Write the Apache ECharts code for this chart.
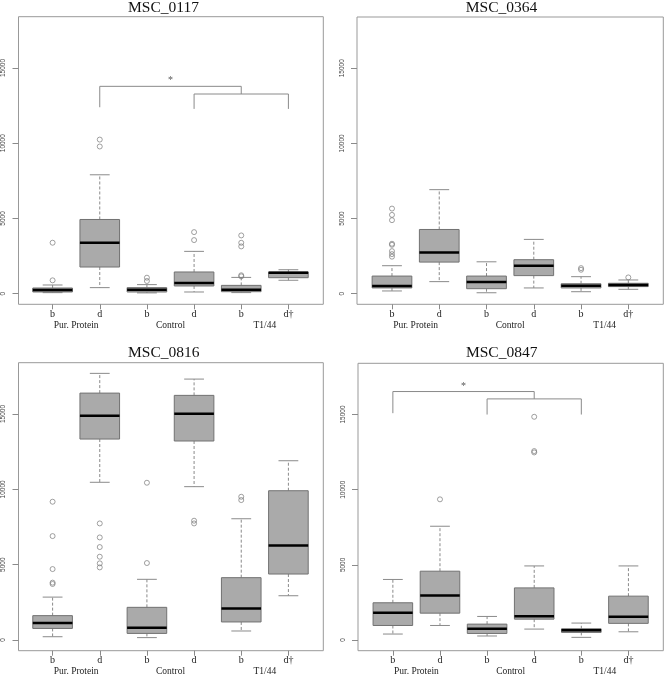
<!DOCTYPE html>
<html>
<head>
<meta charset="utf-8">
<script src="https://cdn.jsdelivr.net/npm/echarts@6/dist/echarts.min.js"></script>
<style>
  html, body { margin: 0; padding: 0; background: #fff; }
  #main { width: 664px; height: 677px; }
</style>
</head>
<body>
<div id="main"></div>
<script>
// categories on every panel
const categories = ['b', 'd', 'b', 'd', 'b', 'd†'];
const groups = ['Pur. Protein', 'Control', 'T1/44'];
const yTicks = [0, 5000, 10000, 15000];
const yRange = [0, 17700]; // common ylim for the four panels

// box stats: [low whisker, Q1, median, Q3, high whisker]
const msc0117Stats = [
  [66, 110, 243, 376, 575],
  [400, 1770, 3380, 4930, 7900],
  [50, 110, 265, 400, 600],
  [110, 510, 710, 1440, 2810],
  [70, 130, 265, 550, 1080],
  [890, 1060, 1390, 1440, 1590]
];
// outliers: [category index, value]
const msc0117Outliers = [[0, 885], [0, 3385], [1, 9780], [1, 10240], [2, 840], [2, 1060],
  [3, 3560], [3, 4090], [4, 1150], [4, 1220], [4, 3140], [4, 3380], [4, 3870]];
// brackets: [from, to, top, left leg end, right leg end]
const msc0117Brackets = [[1, 4, 13780, 12390, 13270], [3, 5, 13270, 12280, 12280]];
const msc0117Stars = [[2.5, 14200]];

const msc0364Stats = [
  [180, 380, 510, 1170, 1860],
  [800, 2100, 2740, 4270, 6920],
  [60, 330, 770, 1170, 2120],
  [380, 1200, 1860, 2260, 3610],
  [130, 380, 530, 660, 1130],
  [290, 470, 580, 690, 910]
];
const msc0364Outliers = [[0, 2460], [0, 2630], [0, 2830], [0, 3250], [0, 3320], [0, 4890],
  [0, 5240], [0, 5660], [4, 1590], [4, 1700], [5, 1080]];

const msc0816Stats = [
  [220, 770, 1130, 1620, 2850],
  [10470, 13340, 14890, 16390, 17700],
  [160, 440, 820, 2170, 4030],
  [10180, 13210, 15020, 16240, 17320],
  [600, 1200, 2100, 4140, 8050],
  [2940, 4380, 6280, 9910, 11900]
];
const msc0816Outliers = [[0, 3720], [0, 3810], [0, 4710], [0, 6900], [0, 9180],
  [1, 4820], [1, 5090], [1, 5530], [1, 6170], [1, 6810], [1, 7740],
  [2, 5110], [2, 10440], [3, 7740], [3, 7920], [4, 9290], [4, 9510]];

const msc0847Stats = [
  [400, 970, 1810, 2480, 4030],
  [970, 1790, 2970, 4580, 7570],
  [270, 440, 750, 1060, 1570],
  [730, 1390, 1590, 3470, 4930],
  [180, 510, 660, 750, 1130],
  [550, 1110, 1550, 2920, 4930]
];
const msc0847Outliers = [[1, 9360], [3, 12480], [3, 12570], [3, 14850]];
const msc0847Brackets = [[0, 3, 16530, 15090, 16040], [2, 4, 16040, 15000, 15000]];
const msc0847Stars = [[1.5, 16900]];

// panel layout: frame [left, top, right, bottom] in px
const panels = [
  { title: 'MSC_0117', stats: msc0117Stats, outliers: msc0117Outliers, brackets: msc0117Brackets, stars: msc0117Stars,
    frame: [17.7, 16.7, 323.3, 304.3], titlePos: [163.5, 7.5] },
  { title: 'MSC_0364', stats: msc0364Stats, outliers: msc0364Outliers, brackets: [], stars: [],
    frame: [357, 17, 663.3, 304.3], titlePos: [501.5, 7.5] },
  { title: 'MSC_0816', stats: msc0816Stats, outliers: msc0816Outliers, brackets: [], stars: [],
    frame: [17.7, 362.7, 323.3, 650.7], titlePos: [163.8, 352.5] },
  { title: 'MSC_0847', stats: msc0847Stats, outliers: msc0847Outliers, brackets: msc0847Brackets, stars: msc0847Stars,
    frame: [358, 363.3, 663.3, 650.7], titlePos: [501.7, 352.5] }
];

const GREY = '#8a8a8a';
const yPad = (yRange[1] - yRange[0]) * 0.04;
const yMin = yRange[0] - yPad;
const yMax = yRange[1] + yPad;

function renderBox(params, api) {
  const x = api.value(0);
  const half = api.size([1, 0])[0] * 0.42;
  const cap = half / 2;
  const lo = api.coord([x, api.value(1)]);
  const q1 = api.coord([x, api.value(2)]);
  const md = api.coord([x, api.value(3)]);
  const q3 = api.coord([x, api.value(4)]);
  const hi = api.coord([x, api.value(5)]);
  const cx = md[0];
  const dash = { stroke: GREY, lineWidth: 1, lineDash: [3, 2] };
  const solid = { stroke: GREY, lineWidth: 1 };
  return {
    type: 'group',
    children: [
      { type: 'line', shape: { x1: cx, y1: q3[1], x2: cx, y2: hi[1] }, style: dash },
      { type: 'line', shape: { x1: cx, y1: q1[1], x2: cx, y2: lo[1] }, style: dash },
      { type: 'line', shape: { x1: cx - cap, y1: hi[1], x2: cx + cap, y2: hi[1] }, style: solid },
      { type: 'line', shape: { x1: cx - cap, y1: lo[1], x2: cx + cap, y2: lo[1] }, style: solid },
      { type: 'rect', shape: { x: cx - half, y: q3[1], width: half * 2, height: q1[1] - q3[1] },
        style: { fill: '#aaaaaa', stroke: '#727272', lineWidth: 1 } },
      { type: 'line', shape: { x1: cx - half, y1: md[1], x2: cx + half, y2: md[1] },
        style: { stroke: '#000', lineWidth: 2.5 } }
    ]
  };
}

function renderBracket(params, api) {
  const aLeg = api.coord([api.value(0), api.value(3)]);
  const a = api.coord([api.value(0), api.value(2)]);
  const b = api.coord([api.value(1), api.value(2)]);
  const bLeg = api.coord([api.value(1), api.value(4)]);
  return {
    type: 'polyline',
    shape: { points: [aLeg, a, b, bLeg] },
    style: { stroke: GREY, lineWidth: 1, fill: null }
  };
}

function renderStar(params, api) {
  const p = api.coord([api.value(0), api.value(1)]);
  return {
    type: 'text', x: p[0], y: p[1],
    style: { text: '*', align: 'center', verticalAlign: 'middle', fill: '#555',
      font: '10px "Liberation Serif"' }
  };
}

const option = { animation: false, grid: [], xAxis: [], yAxis: [], series: [], graphic: [] };

panels.forEach((p, i) => {
  const [L, T, R, B] = p.frame;
  const unit = (R - L) / 6.48;
  // frame grid (R plot box)
  option.grid.push({ left: L, top: T, width: R - L, height: B - T, show: true,
    borderColor: '#999', borderWidth: 1, backgroundColor: 'transparent' });
  // data grid covering the category bands
  option.grid.push({ left: L + 0.24 * unit, top: T, width: unit * 6, height: B - T });

  option.xAxis.push({ type: 'value', gridIndex: 2 * i, show: false, min: 0, max: 1 });
  option.xAxis.push({
    type: 'category', gridIndex: 2 * i + 1, position: 'bottom', data: categories,
    axisLine: { show: false, onZero: false },
    axisTick: { show: true, alignWithLabel: true, length: 5, lineStyle: { color: GREY } },
    axisLabel: { margin: 5, fontFamily: 'Liberation Serif', fontSize: 10, color: '#222' },
    splitLine: { show: false }
  });
  option.xAxis.push({
    type: 'category', gridIndex: 2 * i + 1, position: 'bottom', data: groups,
    axisLine: { show: false, onZero: false }, axisTick: { show: false },
    axisLabel: { margin: 16, fontFamily: 'Liberation Serif', fontSize: 9.5, color: '#222' },
    splitLine: { show: false }
  });
  option.xAxis.push({ type: 'value', gridIndex: 2 * i + 1, position: 'top', show: false,
    min: -0.5, max: 5.5, axisLine: { onZero: false } });

  option.yAxis.push({
    type: 'value', gridIndex: 2 * i, min: yMin, max: yMax,
    axisLine: { show: false },
    axisTick: { show: true, length: 6, customValues: yTicks, lineStyle: { color: GREY } },
    axisLabel: { customValues: yTicks, rotate: 90, margin: 11.5, fontFamily: 'Liberation Sans',
      fontSize: 6.5, color: '#444', formatter: (v) => String(Math.round(v)) },
    splitLine: { show: false }
  });
  option.yAxis.push({ type: 'value', gridIndex: 2 * i + 1, min: yMin, max: yMax, show: false,
    splitLine: { show: false } });

  const xIdx = 4 * i + 3;
  const yIdx = 2 * i + 1;
  option.series.push({
    type: 'custom', xAxisIndex: xIdx, yAxisIndex: yIdx, renderItem: renderBox,
    data: p.stats.map((s, k) => [k].concat(s))
  });
  option.series.push({
    type: 'scatter', xAxisIndex: xIdx, yAxisIndex: yIdx, data: p.outliers,
    symbol: 'circle', symbolSize: 5,
    itemStyle: { color: 'rgba(255,255,255,0)', borderColor: '#7a7a7a', borderWidth: 0.9 }
  });
  if (p.brackets.length) {
    option.series.push({
      type: 'custom', xAxisIndex: xIdx, yAxisIndex: yIdx, renderItem: renderBracket,
      data: p.brackets
    });
    option.series.push({
      type: 'custom', xAxisIndex: xIdx, yAxisIndex: yIdx, renderItem: renderStar,
      data: p.stars
    });
  }

  option.graphic.push({
    type: 'text', x: p.titlePos[0], y: p.titlePos[1],
    style: { text: p.title, align: 'center', verticalAlign: 'middle', fill: '#111',
      font: '15.5px "Liberation Serif"' }
  });
});

const chart = echarts.init(document.getElementById('main'));
chart.setOption(option);
</script>
</body>
</html>
